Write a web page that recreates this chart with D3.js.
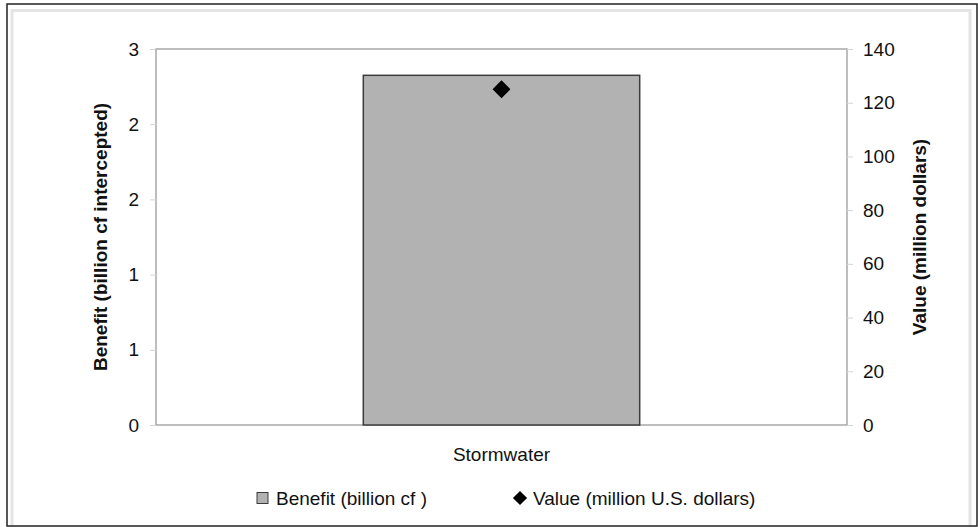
<!DOCTYPE html>
<html>
<head>
<meta charset="utf-8">
<script src="https://cdn.jsdelivr.net/npm/d3@7"></script>
<style>
  body { margin: 0; background: #fff; }
  text { font-family: "Liberation Sans", Arial, sans-serif; fill: #111; }
</style>
</head>
<body>
<div id="chart"></div>
<script>
const categories = ["Stormwater"];
const benefit = [2.79];          // billion cf intercepted (left axis)
const value = [125];             // million U.S. dollars (right axis)
const leftTicks = [0, 0.6, 1.2, 1.8, 2.4, 3];
const rightTicks = [0, 20, 40, 60, 80, 100, 120, 140];
const legendLabels = ["Benefit (billion cf )", "Value (million U.S. dollars)"];

const W = 978, H = 527;
const margin = {top: 49, right: 131, bottom: 102, left: 156},
    width = W - margin.left - margin.right,
    height = H - margin.top - margin.bottom;

const root = d3.select("#chart")
    .append("svg")
    .attr("width", W)
    .attr("height", H);

// outer frames
root.append("rect")
    .attr("x", 12).attr("y", 10.5)
    .attr("width", 958).attr("height", 530)
    .attr("fill", "none")
    .attr("stroke", "#e4e4e4")
    .attr("stroke-width", 3);
root.append("rect")
    .attr("x", 7).attr("y", 4)
    .attr("width", 970).attr("height", 522)
    .attr("fill", "none")
    .attr("stroke", "#222")
    .attr("stroke-width", 1.5);

const svg = root.append("g")
    .attr("transform", `translate(${margin.left},${margin.top})`);

const x = d3.scaleBand()
    .domain(categories)
    .range([0, width])
    .paddingInner(0.6)
    .paddingOuter(0.3);

const yLeft = d3.scaleLinear().domain([0, 3]).range([height, 0]);
const yRight = d3.scaleLinear().domain([0, 140]).range([height, 0]);

// plot frame
svg.append("rect")
    .attr("width", width)
    .attr("height", height)
    .attr("fill", "none")
    .attr("stroke", "#a8a8a8")
    .attr("stroke-width", 1.5);

const leftAxis = svg.append("g")
    .call(d3.axisLeft(yLeft).tickValues(leftTicks).tickFormat(d3.format(".0f"))
        .tickSize(6).tickPadding(11));
const rightAxis = svg.append("g")
    .attr("transform", `translate(${width},0)`)
    .call(d3.axisRight(yRight).tickValues(rightTicks).tickSize(6).tickPadding(10));

[leftAxis, rightAxis].forEach(a => {
    a.select(".domain").remove();
    a.selectAll(".tick line").attr("stroke", "#d4d4d4");
    a.selectAll(".tick text")
        .style("font-size", "19px")
        .style("font-family", "'Liberation Sans', Arial, sans-serif")
        .attr("fill", "#111");
});

// bars
svg.selectAll("rect.bar")
    .data(categories)
    .enter()
    .append("rect")
    .attr("class", "bar")
    .attr("x", d => x(d))
    .attr("y", (d, i) => yLeft(benefit[i]))
    .attr("width", x.bandwidth())
    .attr("height", (d, i) => height - yLeft(benefit[i]))
    .attr("fill", "#b2b2b2")
    .attr("stroke", "#3c3c3c")
    .attr("stroke-width", 1.5);

// value markers
svg.selectAll("path.marker")
    .data(categories)
    .enter()
    .append("path")
    .attr("class", "marker")
    .attr("d", d3.symbol(d3.symbolSquare, 160)())
    .attr("transform", (d, i) => `translate(${x(d) + x.bandwidth() / 2},${yRight(value[i])}) rotate(45)`)
    .attr("fill", "#000");

// category label
svg.selectAll("text.cat")
    .data(categories)
    .enter()
    .append("text")
    .attr("class", "cat")
    .attr("x", d => x(d) + x.bandwidth() / 2)
    .attr("y", height + 36)
    .attr("text-anchor", "middle")
    .style("font-size", "19px")
    .text(d => d);

// axis titles
svg.append("text")
    .attr("transform", `translate(-49,${height / 2}) rotate(-90)`)
    .attr("text-anchor", "middle")
    .style("font-size", "19px")
    .style("font-weight", "bold")
    .text("Benefit (billion cf intercepted)");

svg.append("text")
    .attr("transform", `translate(${width + 79},${height / 2}) rotate(-90)`)
    .attr("text-anchor", "middle")
    .style("font-size", "19px")
    .style("font-weight", "bold")
    .text("Value (million dollars)");

// legend
const legend = svg.append("g")
    .attr("transform", `translate(${257 - margin.left},${498 - margin.top})`);

const lg1 = legend.append("g");
lg1.append("rect")
    .attr("x", 0).attr("y", -5.5)
    .attr("width", 11).attr("height", 11)
    .attr("fill", "#b2b2b2")
    .attr("stroke", "#3c3c3c")
    .attr("stroke-width", 1);
lg1.append("text")
    .attr("x", 19).attr("y", 7)
    .style("font-size", "19px")
    .text(legendLabels[0]);

const lg2 = legend.append("g")
    .attr("transform", "translate(263,0)");
lg2.append("path")
    .attr("d", d3.symbol(d3.symbolSquare, 100)())
    .attr("transform", "rotate(45)")
    .attr("fill", "#000");
lg2.append("text")
    .attr("x", 13).attr("y", 7)
    .style("font-size", "19px")
    .text(legendLabels[1]);
</script>
</body>
</html>
